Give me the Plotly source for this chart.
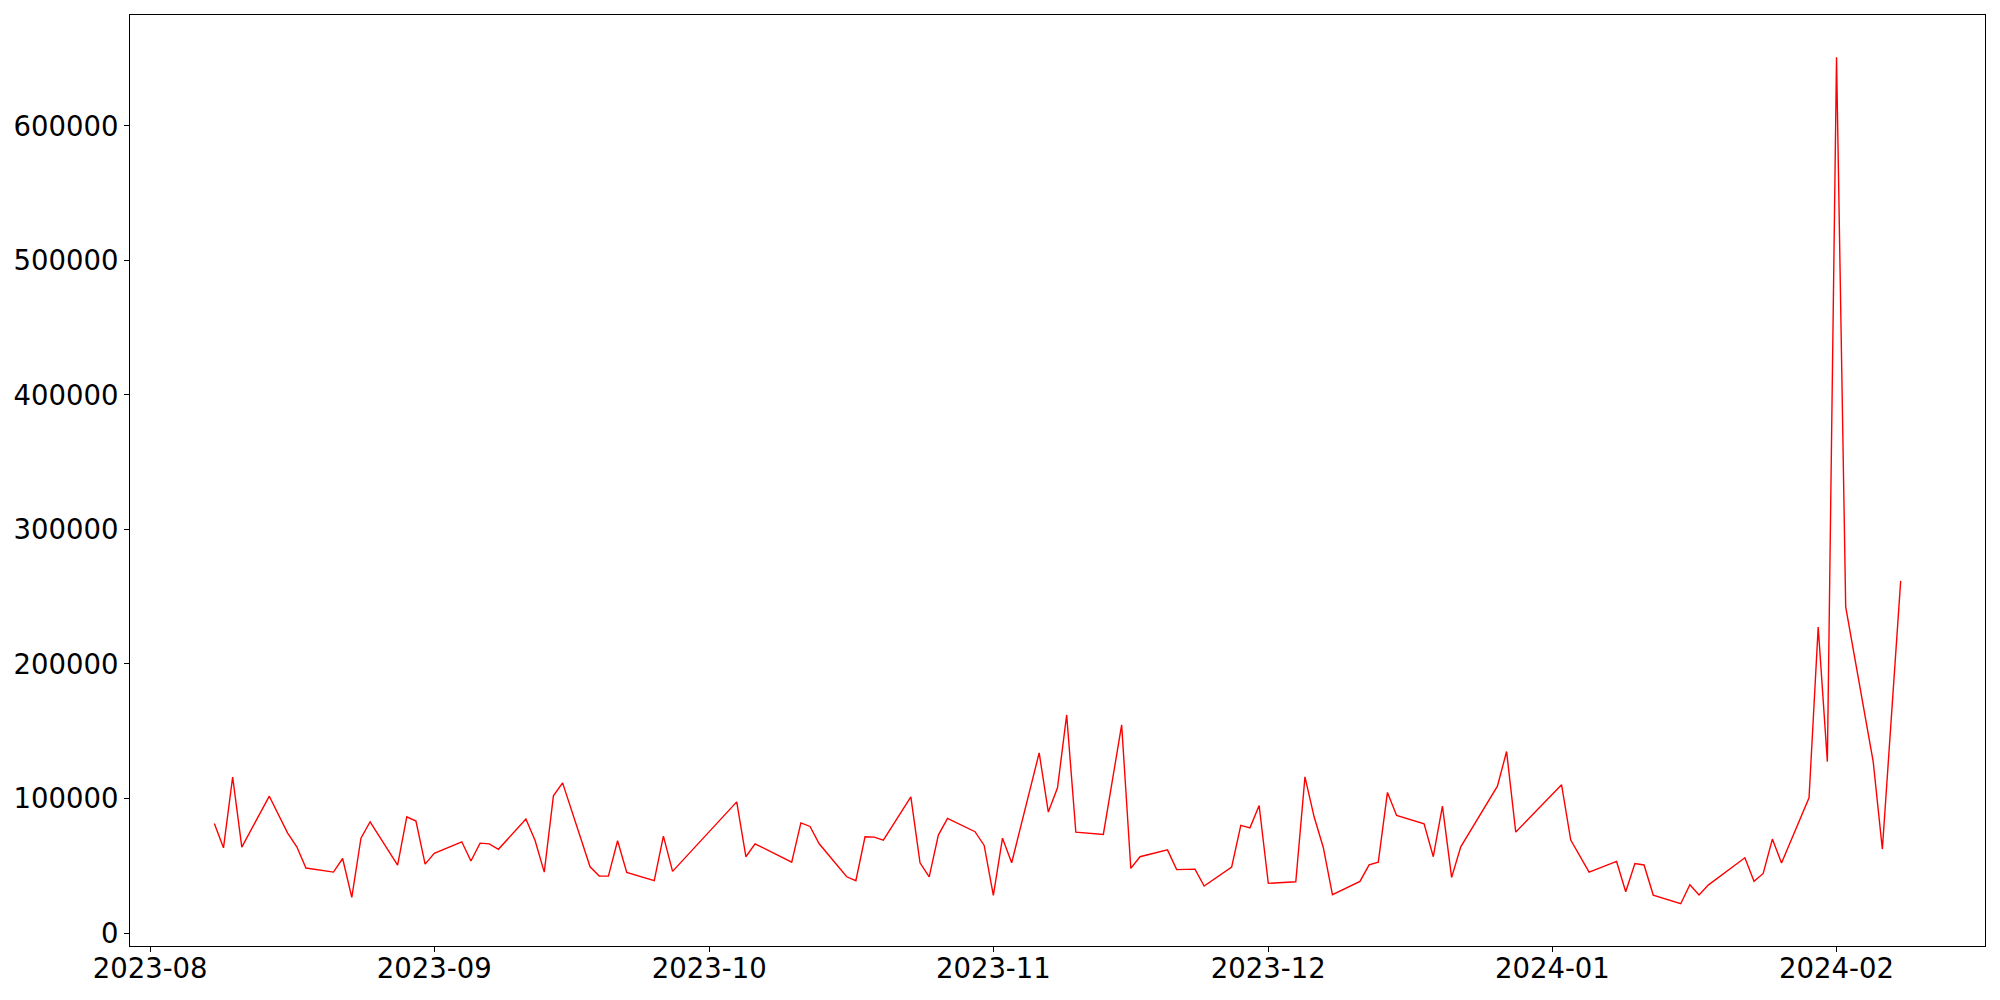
import pandas as pd
import plotly.graph_objects as go

dates = [
    "2023-08-08", "2023-08-09", "2023-08-10", "2023-08-11", "2023-08-14", "2023-08-16", "2023-08-17",
    "2023-08-18", "2023-08-21", "2023-08-22", "2023-08-23", "2023-08-24", "2023-08-25", "2023-08-28",
    "2023-08-29", "2023-08-30", "2023-08-31", "2023-09-01", "2023-09-04", "2023-09-05", "2023-09-06",
    "2023-09-07", "2023-09-08", "2023-09-11", "2023-09-12", "2023-09-13", "2023-09-14", "2023-09-15",
    "2023-09-18", "2023-09-19", "2023-09-20", "2023-09-21", "2023-09-22", "2023-09-25", "2023-09-26",
    "2023-09-27", "2023-10-04", "2023-10-05", "2023-10-06", "2023-10-10", "2023-10-11", "2023-10-12",
    "2023-10-13", "2023-10-16", "2023-10-17", "2023-10-18", "2023-10-19", "2023-10-20", "2023-10-23",
    "2023-10-24", "2023-10-25", "2023-10-26", "2023-10-27", "2023-10-30", "2023-10-31", "2023-11-01",
    "2023-11-02", "2023-11-03", "2023-11-06", "2023-11-07", "2023-11-08", "2023-11-09", "2023-11-10",
    "2023-11-13", "2023-11-15", "2023-11-16", "2023-11-17", "2023-11-20", "2023-11-21", "2023-11-23",
    "2023-11-24", "2023-11-27", "2023-11-28", "2023-11-29", "2023-11-30", "2023-12-01", "2023-12-04",
    "2023-12-05", "2023-12-06", "2023-12-07", "2023-12-08", "2023-12-11", "2023-12-12", "2023-12-13",
    "2023-12-14", "2023-12-15", "2023-12-18", "2023-12-19", "2023-12-20", "2023-12-21", "2023-12-22",
    "2023-12-26", "2023-12-27", "2023-12-28", "2024-01-02", "2024-01-03", "2024-01-05", "2024-01-08",
    "2024-01-09", "2024-01-10", "2024-01-11", "2024-01-12", "2024-01-15", "2024-01-16", "2024-01-17",
    "2024-01-18", "2024-01-22", "2024-01-23", "2024-01-24", "2024-01-25", "2024-01-26", "2024-01-29",
    "2024-01-30", "2024-01-31", "2024-02-01", "2024-02-02", "2024-02-05", "2024-02-06", "2024-02-08",
]

values = [
    81500, 63300, 116000, 63900, 101700, 74300, 64100,
    48300, 45300, 55400, 26500, 70500, 82700, 50500,
    86400, 83200, 51200, 59200, 67800, 53500, 66800,
    66300, 62200, 84700, 68800, 45300, 102000, 111600,
    49200, 42300, 42300, 68600, 45100, 38900, 72000,
    45800, 97500, 56700, 66300, 52700, 81900, 79200,
    66300, 41800, 38900, 71500, 71300, 69100, 101200,
    52200, 41800, 72800, 85200, 75300, 65100, 28000,
    70500, 52200, 133900, 89900, 107900, 162100, 75000,
    73300, 154700, 48000, 56700, 61800, 47100, 47500,
    34900, 49000, 80000, 78200, 94800, 36900, 38100,
    116100, 86400, 63600, 28500, 38400, 50700, 52700,
    104500, 87400, 81200, 56700, 94300, 41300, 64100,
    109200, 134900, 75000, 110200, 69100, 45300, 53200,
    30700, 51700, 50600, 28200, 21800, 35900, 28200,
    35600, 55900, 38400, 44300, 69800, 52000, 100500,
    227400, 127400, 651000, 242500, 127400, 62400, 261800,
]

y_tick_values = [0, 100000, 200000, 300000, 400000, 500000, 600000]

x = pd.to_datetime(dates)
xspan = x.max() - x.min()
xrange = [x.min() - 0.05 * xspan, x.max() + 0.05 * xspan]
yspan = max(values) - min(values)
yrange = [min(values) - 0.05 * yspan, max(values) + 0.05 * yspan]

fig = go.Figure()
fig.add_trace(go.Scatter(
    x=x, y=values, mode="lines",
    line=dict(color="red", width=1.4),
    showlegend=False,
))

font = dict(family="DejaVu Sans", size=27.5, color="black")

fig.update_layout(
    width=1992, height=992,
    paper_bgcolor="white", plot_bgcolor="white",
    margin=dict(l=122, r=15, t=7, b=54, autoexpand=False),
    font=font,
)
fig.update_xaxes(
    range=xrange, type="date",
    tick0="2023-08-01", dtick="M1", tickformat="%Y-%m",
    showgrid=False, zeroline=False,
    showline=True, linecolor="black", linewidth=1, mirror=True,
    ticks="outside", ticklen=5, tickwidth=1, tickcolor="black",
    ticklabelstandoff=-7,
    tickfont=font,
)
fig.update_yaxes(
    range=yrange,
    tickvals=y_tick_values, tickformat="d",
    showgrid=False, zeroline=False,
    showline=True, linecolor="black", linewidth=1, mirror=True,
    ticks="outside", ticklen=5, tickwidth=1, tickcolor="black",
    tickfont=font,
)

fig.write_html("out.html")
